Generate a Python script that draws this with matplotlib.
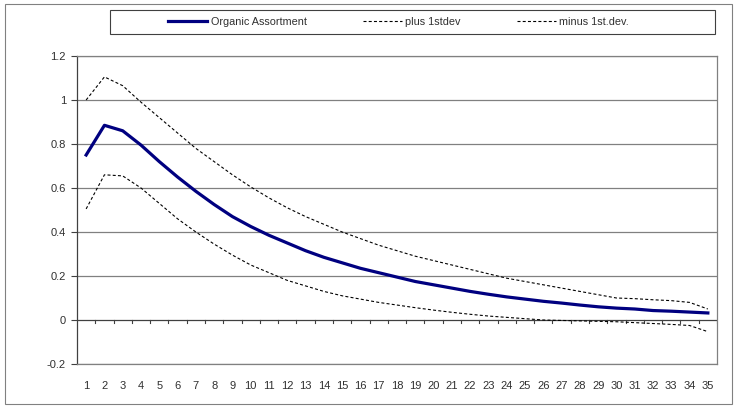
import matplotlib
matplotlib.use("Agg")
import matplotlib.pyplot as plt
from matplotlib.patches import Rectangle
from matplotlib.lines import Line2D

periods = list(range(1, 36))
organic = [0.75, 0.885, 0.86, 0.795, 0.72, 0.65, 0.585, 0.525, 0.47, 0.425,
           0.385, 0.35, 0.315, 0.285, 0.26, 0.235, 0.215, 0.195, 0.175, 0.16,
           0.145, 0.13, 0.117, 0.105, 0.095, 0.085, 0.077, 0.068, 0.06, 0.054,
           0.05, 0.043, 0.04, 0.036, 0.032]
plus_sd = [1.0, 1.105, 1.065, 0.99, 0.92, 0.85, 0.78, 0.72, 0.66, 0.605,
           0.555, 0.51, 0.47, 0.435, 0.4, 0.37, 0.34, 0.315, 0.29, 0.27,
           0.25, 0.23, 0.21, 0.19, 0.175, 0.16, 0.145, 0.13, 0.115, 0.1,
           0.097, 0.092, 0.088, 0.08, 0.05]
minus_sd = [0.505, 0.66, 0.655, 0.6, 0.53, 0.46, 0.4, 0.345, 0.295, 0.25,
            0.215, 0.18, 0.155, 0.13, 0.11, 0.095, 0.08, 0.068, 0.056, 0.045,
            0.035, 0.026, 0.018, 0.012, 0.006, 0.0, -0.002, -0.004, -0.006, -0.008,
            -0.012, -0.016, -0.02, -0.025, -0.053]
labels = ["Organic Assortment", "plus 1stdev", "minus 1st.dev."]
yticks = [-0.2, 0, 0.2, 0.4, 0.6, 0.8, 1, 1.2]

plt.rcParams['font.family'] = ['Liberation Sans', 'DejaVu Sans']

W, H = 737, 409
fig = plt.figure(figsize=(W / 100, H / 100), dpi=100)

# outer chart border
fig.patches.append(Rectangle((5 / W, 1 - 404 / H), 727 / W, 400 / H, transform=fig.transFigure,
                             fill=False, edgecolor='#808080', linewidth=0.8))

ax = fig.add_axes([77 / W, 1 - 364 / H, 640 / W, 308 / H])
dash = (0, (2.7, 2))
ax.plot(periods, organic, color='#000080', linewidth=2.3, zorder=4)
ax.plot(periods, plus_sd, color='black', linewidth=0.8, linestyle=dash, zorder=3)
ax.plot(periods, minus_sd, color='black', linewidth=0.8, linestyle=dash, zorder=3)

ax.set_xlim(0.5, 35.5)
ax.set_ylim(-0.2, 1.2)
ax.set_yticks(yticks)
ax.set_yticklabels([f"{v:g}" for v in yticks])
for v in yticks:
    if v != 0:
        ax.axhline(v, color='#808080', linewidth=0.9, zorder=1)
ax.axhline(0, color='#404040', linewidth=0.9, zorder=2)
# category tick marks on the zero line
for i in range(len(periods)):
    ax.plot([i + 1.5, i + 1.5], [0, -0.014], color='#404040', linewidth=0.8, zorder=2)

ax.set_xticks(periods)
ax.set_xticklabels([str(p) for p in periods])
ax.tick_params(axis='x', length=0, pad=12, labelsize=8, colors='#303030')
ax.tick_params(axis='y', length=4, width=0.8, color='#404040', pad=4, labelsize=8, colors='#303030')
ax.spines['left'].set_color('#404040')
ax.spines['left'].set_linewidth(0.9)
for s in ['right', 'top', 'bottom']:
    ax.spines[s].set_color('#808080')
    ax.spines[s].set_linewidth(0.9)

# legend box
fig.patches.append(Rectangle((110 / W, 1 - 34 / H), 605 / W, 24 / H, transform=fig.transFigure,
                             fill=False, edgecolor='#404040', linewidth=0.8))
handles = [Line2D([], [], color='#000080', linewidth=2.3),
           Line2D([], [], color='black', linewidth=0.8, linestyle=dash),
           Line2D([], [], color='black', linewidth=0.8, linestyle=dash)]
fig.legend(handles, labels, loc='center left', bbox_to_anchor=(163 / W, 1 - 22 / H),
           ncol=3, frameon=False, borderpad=0, fontsize=7.8, handlelength=3.6,
           handletextpad=0.3, columnspacing=5.2, labelcolor='#303030')

fig.savefig("out.png", dpi=100)
